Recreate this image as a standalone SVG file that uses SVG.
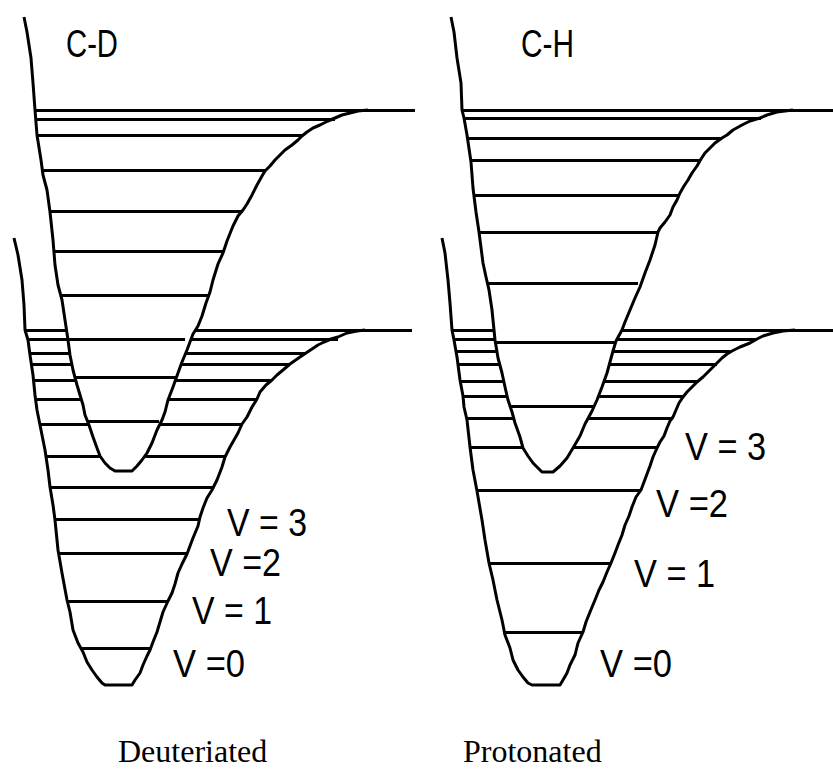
<svg xmlns="http://www.w3.org/2000/svg" width="833" height="769" viewBox="0 0 833 769">
<style>
.w{fill:none;stroke:#000;stroke-width:3;stroke-linejoin:round;stroke-linecap:butt}
.f{fill:#fff;stroke:none}
.l{stroke:#000;stroke-width:3;fill:none;shape-rendering:crispEdges}
.v{font-family:"Liberation Sans",Arial,sans-serif;font-size:38px;fill:#000}
.b{font-family:"Liberation Serif","Times New Roman",serif;font-size:32px;fill:#000}
</style>
<rect width="833" height="769" fill="#fff"/>

<g id="cd-ground">
<polyline class="w" points="14,238 18,255 22,280 24,305 25,330 28,340 30,355 33,375 35,395 37,410 41,430 45,450 48,470 50,487 53,505 55,520 58,550 62,573 67,600 70,612 73,630 78,643 83,652 87,662 92,670 97,677 102,683 105,685 132,685 135,680 140,673 143,665 147,656 150,650 153,642 157,632 160,622 163,612 168,601 172,593 175,584 178,573 182,564 187,554 190,546 193,538 198,526 200,517 203,508 207,498 212,490 215,484 217,480 222,467 225,457 230,447 238,433 242,424 247,417 252,407 257,399 260,392 266,385 272,380 277,375 283,370 290,364 300,357 306,353 312,349 318,345 324,342 331,339 338,337 347,333 357,331 365,330"/>
<line class="l" x1="25" y1="330" x2="412" y2="330"/>
<line class="l" x1="28" y1="339" x2="338" y2="339"/>
<line class="l" x1="30" y1="353" x2="306" y2="353"/>
<line class="l" x1="32" y1="364" x2="290" y2="364"/>
<line class="l" x1="34" y1="380" x2="272" y2="380"/>
<line class="l" x1="36" y1="399" x2="257" y2="399"/>
<line class="l" x1="40" y1="424" x2="242" y2="424"/>
<line class="l" x1="45" y1="456" x2="225" y2="456"/>
<line class="l" x1="50" y1="487" x2="214" y2="487"/>
<line class="l" x1="55" y1="519" x2="200" y2="519"/>
<line class="l" x1="59" y1="553" x2="188" y2="553"/>
<line class="l" x1="67" y1="601" x2="168" y2="601"/>
<line class="l" x1="81" y1="648" x2="151" y2="648"/>
</g>

<g id="cd-excited">
<polygon class="f" points="35,110 37,135 41,160 43,175 47,190 50,212 53,240 55,265 58,285 62,300 65,320 68,340 70,355 73,370 77,385 80,395 83,405 85,415 89,425 93,437 97,448 100,456 105,463 110,468 115,471 132,471 137,466 142,460 147,453 152,443 157,430 162,420 165,412 168,400 173,387 178,373 182,362 187,350 193,334 198,326 202,316 206,303 210,292 213,280 218,264 223,253 227,241 233,226 238,216 243,210 247,204 252,195 257,185 262,176 265,171 270,166 275,160 280,155 285,150 292,145 298,140 302,136 307,132 313,128 320,125 328,121 335,118 342,115 350,113 358,111 368,110"/>
<polyline class="w" points="24,17 27,32 31,58 33,83 35,110 37,135 41,160 43,175 47,190 50,212 53,240 55,265 58,285 62,300 65,320 68,340 70,355 73,370 77,385 80,395 83,405 85,415 89,425 93,437 97,448 100,456 105,463 110,468 115,471 132,471 137,466 142,460 147,453 152,443 157,430 162,420 165,412 168,400 173,387 178,373 182,362 187,350 193,334 198,326 202,316 206,303 210,292 213,280 218,264 223,253 227,241 233,226 238,216 243,210 247,204 252,195 257,185 262,176 265,171 270,166 275,160 280,155 285,150 292,145 298,140 302,136 307,132 313,128 320,125 328,121 335,118 342,115 350,113 358,111 368,110"/>
<line class="l" x1="35" y1="110" x2="415" y2="110"/>
<line class="l" x1="37" y1="119" x2="335" y2="119"/>
<line class="l" x1="37" y1="135" x2="302" y2="135"/>
<line class="l" x1="43" y1="170" x2="265" y2="170"/>
<line class="l" x1="50" y1="211" x2="243" y2="211"/>
<line class="l" x1="53" y1="251" x2="223" y2="251"/>
<line class="l" x1="62" y1="295" x2="209" y2="295"/>
<line class="l" x1="68" y1="339" x2="185" y2="339"/>
<line class="l" x1="75" y1="377" x2="177" y2="377"/>
<line class="l" x1="88" y1="421" x2="159" y2="421"/>
</g>

<g id="ch-ground">
<polyline class="w" points="442,238 445,253 448,280 450,303 452,330 454,340 457,357 460,380 463,396 464,407 467,420 470,447 473,470 477,491 482,520 485,540 489,563 493,580 497,600 502,620 505,635 510,648 513,660 518,670 523,677 528,683 532,685 560,685 563,680 567,673 570,665 575,655 578,643 583,632 586,622 590,612 595,600 599,590 603,582 607,572 611,563 615,553 618,545 622,535 625,525 629,516 632,507 636,497 641,490 644,482 647,474 650,466 653,457 657,448 660,442 664,436 667,428 670,421 673,417 676,410 679,403 683,397 687,392 692,387 697,382 703,377 708,372 713,367 718,362 722,358 727,354 732,351 740,347 750,343 757,339 763,336 773,333 783,331 795,330"/>
<line class="l" x1="452" y1="330" x2="833" y2="330"/>
<line class="l" x1="454" y1="339" x2="757" y2="339"/>
<line class="l" x1="456" y1="351" x2="730" y2="351"/>
<line class="l" x1="457" y1="364" x2="717" y2="364"/>
<line class="l" x1="460" y1="381" x2="698" y2="381"/>
<line class="l" x1="463" y1="396" x2="683" y2="396"/>
<line class="l" x1="466" y1="418" x2="672" y2="418"/>
<line class="l" x1="470" y1="447" x2="657" y2="447"/>
<line class="l" x1="476" y1="490" x2="641" y2="490"/>
<line class="l" x1="489" y1="563" x2="612" y2="563"/>
<line class="l" x1="503" y1="632" x2="583" y2="632"/>
</g>

<g id="ch-excited">
<polygon class="f" points="462,110 464,118 467,135 471,162 473,188 476,212 479,232 483,263 486,277 489,290 492,310 495,340 498,358 502,373 505,387 508,400 512,412 515,423 520,437 523,448 528,456 533,463 538,468 542,472 553,472 560,466 567,458 573,448 580,436 585,424 592,411 597,400 602,387 607,373 610,362 613,351 616,341 622,330 625,322 630,310 635,298 640,287 645,273 650,260 655,245 658,232 660,228 665,222 670,215 673,207 677,200 680,193 684,186 688,180 692,173 697,166 701,159 705,153 710,148 715,143 722,138 727,135 733,130 742,125 750,121 760,118 767,115 777,112 793,110"/>
<polyline class="w" points="451,17 454,32 457,58 461,83 462,110 464,118 467,135 471,162 473,188 476,212 479,232 483,263 486,277 489,290 492,310 495,340 498,358 502,373 505,387 508,400 512,412 515,423 520,437 523,448 528,456 533,463 538,468 542,472 553,472 560,466 567,458 573,448 580,436 585,424 592,411 597,400 602,387 607,373 610,362 613,351 616,341 622,330 625,322 630,310 635,298 640,287 645,273 650,260 655,245 658,232 660,228 665,222 670,215 673,207 677,200 680,193 684,186 688,180 692,173 697,166 701,159 705,153 710,148 715,143 722,138 727,135 733,130 742,125 750,121 760,118 767,115 777,112 793,110"/>
<line class="l" x1="462" y1="110" x2="833" y2="110"/>
<line class="l" x1="464" y1="118" x2="761" y2="118"/>
<line class="l" x1="467" y1="138" x2="722" y2="138"/>
<line class="l" x1="472" y1="160" x2="700" y2="160"/>
<line class="l" x1="475" y1="195" x2="679" y2="195"/>
<line class="l" x1="479" y1="232" x2="658" y2="232"/>
<line class="l" x1="487" y1="283" x2="638" y2="283"/>
<line class="l" x1="496" y1="342" x2="616" y2="342"/>
<line class="l" x1="511" y1="406" x2="593" y2="406"/>
</g>

<g id="labels">
<text class="v" x="66" y="57" textLength="52" lengthAdjust="spacingAndGlyphs">C-D</text>
<text class="v" x="521" y="57" textLength="53" lengthAdjust="spacingAndGlyphs">C-H</text>
<text class="v" x="227" y="536" textLength="80" lengthAdjust="spacingAndGlyphs">V = 3</text>
<text class="v" x="210" y="576" textLength="71" lengthAdjust="spacingAndGlyphs">V =2</text>
<text class="v" x="192" y="624" textLength="80" lengthAdjust="spacingAndGlyphs">V = 1</text>
<text class="v" x="173" y="677" textLength="72" lengthAdjust="spacingAndGlyphs">V =0</text>
<text class="v" x="685" y="460" textLength="81" lengthAdjust="spacingAndGlyphs">V = 3</text>
<text class="v" x="656" y="517" textLength="72" lengthAdjust="spacingAndGlyphs">V =2</text>
<text class="v" x="634" y="587" textLength="81" lengthAdjust="spacingAndGlyphs">V = 1</text>
<text class="v" x="600" y="677" textLength="72" lengthAdjust="spacingAndGlyphs">V =0</text>
<text class="b" x="118" y="762">Deuteriated</text>
<text class="b" x="463" y="762">Protonated</text>
</g>
</svg>
